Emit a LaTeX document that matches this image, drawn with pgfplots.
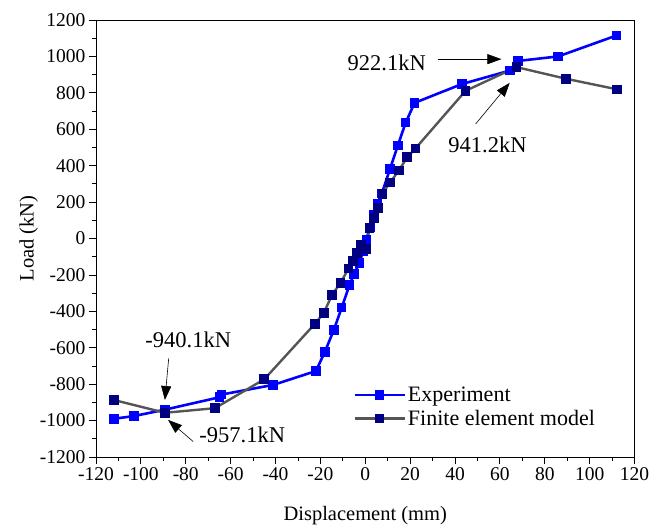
\documentclass[border=0pt]{standalone}
\usepackage{pgfplots}
\pgfplotsset{compat=1.18}
\usepackage{fontspec}
\setmainfont{Liberation Serif}
\usetikzlibrary{arrows.meta}

\definecolor{expblue}{RGB}{0,0,255}
\definecolor{fegray}{RGB}{85,85,85}
\definecolor{fenavy}{RGB}{0,0,128}

\begin{document}
\begin{tikzpicture}
\begin{axis}[
  width=538.5pt, height=437pt, scale only axis,
  xmin=-120, xmax=120, ymin=-1200, ymax=1200,
  xtick distance=20, ytick distance=200,
  /pgf/number format/assume math mode=true,
  /pgf/number format/1000 sep={},
  % tick labels in the text font, with a plain hyphen for negatives
  xticklabel={\textrm{\pgfmathprintnumber{\tick}}},
  yticklabel={\textrm{\pgfmathprintnumber{\tick}}},
  minor x tick num=1, minor y tick num=1,
  tick align=outside,
  xtick pos=bottom, ytick pos=left,
  major tick length=7pt, minor tick length=4pt,
  every tick/.style={black, line width=0.8pt},
  axis line style={line width=0.8pt},
  tick label style={font=\fontsize{19.5}{22}\selectfont},
  xlabel={Displacement (mm)}, ylabel={Load (kN)},
  label style={font=\fontsize{20.5}{24}\selectfont},
  xlabel style={at={(axis description cs:0.5,-0.133)}, anchor=center},
  ylabel style={at={(axis description cs:-0.125,0.5)}, anchor=center, rotate=0},
  legend style={draw=none, fill=none, at={(0.472,0.17)}, anchor=north west,
    font=\fontsize{22}{26}\selectfont, row sep=3pt,
    /tikz/every even column/.append style={column sep=2pt}},
  legend cell align=left,
  legend image code/.code={
    \draw[#1] (0pt,0pt) -- (50pt,0pt);
    \draw[#1, only marks] plot coordinates {(25pt,0pt)};
  },
]
% test results
\addplot[color=expblue, line width=2.6pt, mark=square*, mark size=4.3pt,
  mark options={solid, fill=expblue, line width=0pt}] coordinates {
  (-112,-990) (-103,-975) (-89.3,-940.1) (-65,-872) (-64,-857) (-41,-804)
  (-22,-728) (-18,-623) (-14,-502) (-10.5,-380) (-7,-255) (-5,-195)
  (-2.5,-133) (-1,-70) (0.5,-5) (2,60) (3.8,129) (5.5,190) (7.4,248)
  (11,381) (14.5,510) (18,636) (22,745) (43,848) (64.4,922.1) (68,975)
  (86,1000) (112,1115)
};
\addlegendentry{Experiment}
% finite element results
\addplot[color=fegray, line width=2.4pt, mark=square*, mark size=4.3pt,
  mark options={solid, fill=fenavy, draw=fenavy, line width=0pt}] coordinates {
  (-112,-887) (-89.3,-957.1) (-67,-932) (-45,-773) (-22.4,-468)
  (-18.5,-409) (-14.8,-310) (-11,-243) (-7.4,-164) (-5.5,-125)
  (-3.7,-80) (-1.8,-32) (0.3,-58) (1.9,59) (3.9,114) (5.6,169)
  (7.6,246) (11.1,308) (15,374) (18.7,446) (22.4,495) (44.7,811)
  (67.4,941.2) (89.6,877) (112.3,819)
};
\addlegendentry{Finite element model}

% peak load annotations
\tikzset{peak/.style={-{Triangle[length=14pt,width=10pt]}, line width=0.6pt, black},
  peaklabel/.style={font=\fontsize{22.5}{26}\selectfont}}
\draw[peak] (axis cs:32.3,985) -- (axis cs:60.7,985);
\node[peaklabel] at (axis cs:9.6,963) {922.1kN};
\draw[peak] (axis cs:49.2,629) -- (axis cs:64.4,855);
\node[peaklabel] at (axis cs:54.5,513) {941.2kN};
\draw[peak] (axis cs:-87.6,-658) -- (axis cs:-89.3,-887);
\node[peaklabel] at (axis cs:-78.9,-557) {-940.1kN};
\draw[peak] (axis cs:-76.7,-1115) -- (axis cs:-87.9,-996);
\node[peaklabel] at (axis cs:-54.8,-1079) {-957.1kN};
\end{axis}
\pgfresetboundingbox
\path[use as bounding box] ([shift={(-96pt,-71pt)}]current axis.south west)
  rectangle ([shift={(27.5pt,20pt)}]current axis.north east);
\end{tikzpicture}
\end{document}
